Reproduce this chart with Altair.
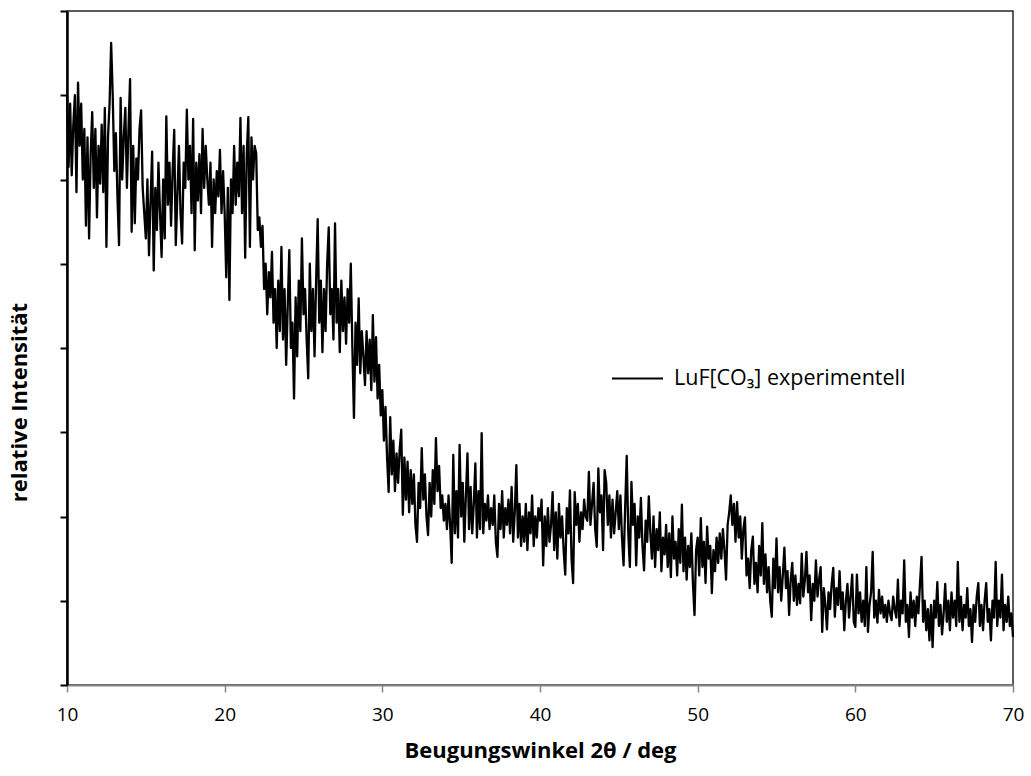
import altair as alt
import pandas as pd

# 2theta grid: 10.0 .. 70.0 deg, 0.1 deg sampling
start_deg = 10.0
step_deg = 0.1

# relative intensity (arbitrary units, axis 0..800), one row per degree
int_10_20 = [
    700, 615, 690, 605, 665, 700, 585, 715, 640, 690,
    600, 660, 545, 650, 530, 630, 680, 590, 660, 555,
    640, 595, 665, 585, 685, 520, 650, 690, 762, 700,
    610, 655, 580, 522, 697, 600, 650, 685, 590, 660,
    719, 538, 640, 548, 625, 600, 660, 682, 590, 560,
    530, 600, 510, 575, 633, 492, 590, 540, 620, 560,
    508, 600, 530, 675, 570, 620, 545, 610, 659, 522,
    580, 640, 560, 524, 620, 590, 683, 600, 640, 560,
    672, 516, 620, 575, 630, 560, 660, 590, 640, 600,
    570, 620, 520, 600, 560, 610, 580, 635, 560, 610,
]
int_20_30 = [
    560, 484, 590, 457, 600, 560, 640, 570, 620, 580,
    673, 560, 640, 507, 630, 674, 520, 650, 600, 640,
    631, 540, 555, 520, 545, 470, 500, 440, 490, 460,
    514, 430, 470, 400, 480, 420, 520, 410, 470, 380,
    450, 516, 400, 430, 340, 460, 390, 480, 420, 530,
    440, 470, 410, 364, 500, 420, 470, 390, 480, 553,
    430, 480, 395, 470, 420, 500, 543, 440, 470, 410,
    548, 430, 470, 395, 480, 420, 460, 405, 470, 430,
    500, 400, 317, 430, 380, 459, 370, 420, 390, 356,
    420, 370, 410, 350, 439, 360, 413, 340, 380, 320,
]
int_30_40 = [
    350, 290, 330, 270, 229, 318, 250, 290, 230, 275,
    240, 280, 303, 202, 270, 220, 265, 205, 255, 215,
    250, 190, 170, 240, 210, 281, 220, 250, 200, 178,
    240, 200, 255, 215, 293, 230, 260, 210, 225, 195,
    215, 185, 225, 190, 145, 273, 180, 230, 175, 285,
    200, 240, 170, 225, 275, 185, 235, 180, 215, 263,
    175, 230, 185, 299, 180, 215, 195, 225, 185, 210,
    190, 225, 170, 152, 215, 185, 230, 175, 210, 190,
    220, 180, 235, 170, 205, 261, 175, 215, 165, 200,
    170, 215, 160, 205, 180, 225, 165, 200, 175, 210,
]
int_40_50 = [
    195, 220, 142, 200, 165, 210, 170, 190, 229, 160,
    205, 150, 215, 175, 200, 160, 131, 210, 180, 231,
    150, 121, 229, 190, 215, 170, 205, 185, 220, 200,
    195, 253, 190, 215, 240, 185, 164, 257, 205, 225,
    160, 255, 240, 190, 225, 175, 220, 180, 205, 230,
    185, 225, 175, 142, 210, 272, 180, 140, 241, 190,
    215, 142, 200, 175, 222, 165, 136, 195, 170, 224,
    180, 150, 200, 140, 185, 160, 205, 135, 175, 155,
    190, 140, 180, 128, 200, 150, 170, 130, 185, 145,
    214, 135, 175, 125, 165, 140, 180, 120, 83, 160,
]
int_50_60 = [
    175, 130, 198, 140, 170, 121, 188, 150, 165, 109,
    160, 135, 175, 145, 180, 150, 185, 160, 125, 190,
    205, 225, 190, 215, 170, 217, 175, 200, 150, 185,
    199, 130, 150, 115, 160, 176, 120, 145, 110, 165,
    130, 192, 120, 155, 110, 140, 100, 81, 150, 115,
    174, 110, 140, 100, 130, 163, 115, 135, 83, 125,
    145, 100, 130, 95, 120, 97, 156, 105, 125, 158,
    110, 130, 77, 120, 100, 148, 105, 125, 140, 63,
    115, 95, 66, 110, 90, 120, 139, 81, 115, 95,
    135, 90, 110, 65, 100, 120, 80, 105, 131, 75,
]
int_60_70 = [
    69, 131, 85, 110, 75, 100, 70, 140, 63, 95,
    110, 158, 80, 100, 74, 113, 85, 105, 80, 95,
    75, 100, 85, 77, 105, 90, 80, 125, 70, 100,
    85, 148, 75, 95, 57, 110, 80, 100, 70, 105,
    85, 120, 152, 75, 100, 65, 90, 53, 95, 45,
    100, 80, 122, 70, 95, 60, 85, 120, 75, 100,
    65, 110, 80, 100, 70, 146, 75, 105, 65, 95,
    80, 115, 70, 90, 51, 95, 75, 105, 121, 70,
    95, 65, 100, 121, 75, 90, 53, 100, 80, 146,
    70, 100, 80, 131, 65, 95, 75, 105, 70, 85,
    57,
]

intensity = int_10_20 + int_20_30 + int_30_40 + int_40_50 + int_50_60 + int_60_70
angles = [round(start_deg + i * step_deg, 1) for i in range(len(intensity))]

series_name = "LuF[CO\u2083] experimentell"
x_ticks = [10, 20, 30, 40, 50, 60, 70]
y_ticks = [0, 100, 200, 300, 400, 500, 600, 700, 800]

df = pd.DataFrame({"angle": angles, "intensity": intensity, "series": series_name})

FONT = "Open Sans"

chart = (
    alt.Chart(df)
    .mark_line(strokeWidth=2.3, strokeJoin="round")
    .encode(
        x=alt.X(
            "angle:Q",
            scale=alt.Scale(domain=[10, 70], nice=False, zero=False),
            axis=alt.Axis(
                values=x_ticks,
                title="Beugungswinkel 2\u03b8 / deg",
                grid=False,
                domainColor="#868686",
                domainWidth=2,
                tickColor="#868686",
                tickWidth=1.5,
                tickSize=7,
                labelFlush=False,
                labelBound=False,
                labelFont=FONT,
                labelFontSize=19,
                labelColor="black",
                labelPadding=13,
                titleFont=FONT,
                titleFontSize=22,
                titleFontWeight="bold",
                titleColor="black",
                titlePadding=16,
            ),
        ),
        y=alt.Y(
            "intensity:Q",
            scale=alt.Scale(domain=[0, 800], nice=False),
            axis=alt.Axis(
                values=y_ticks,
                labels=False,
                title="relative Intensität",
                grid=False,
                domainColor="black",
                domainWidth=2.5,
                tickColor="black",
                tickWidth=2,
                tickSize=7,
                titleFont=FONT,
                titleFontSize=22,
                titleFontWeight="bold",
                titleColor="black",
                titlePadding=28,
                titleY=391,
            ),
        ),
        color=alt.Color(
            "series:N",
            scale=alt.Scale(range=["black"]),
            legend=alt.Legend(
                title=None,
                orient="none",
                legendX=544,
                legendY=341,
                symbolType="stroke",
                symbolSize=2601,
                symbolStrokeWidth=2,
                labelFont=FONT,
                labelFontSize=21.5,
                labelColor="black",
                labelLimit=400,
                labelOffset=10,
                padding=0,
            ),
        ),
    )
    .properties(
        width=946,
        height=674,
        autosize=alt.AutoSizeParams(type="none"),
        padding={"left": 67, "top": 11, "right": 18, "bottom": 91},
    )
    .configure(background="white")
    .configure_view(stroke="#262626", strokeWidth=1.5)
)

chart.save("out.html", embed_options={"renderer": "svg", "actions": False})
